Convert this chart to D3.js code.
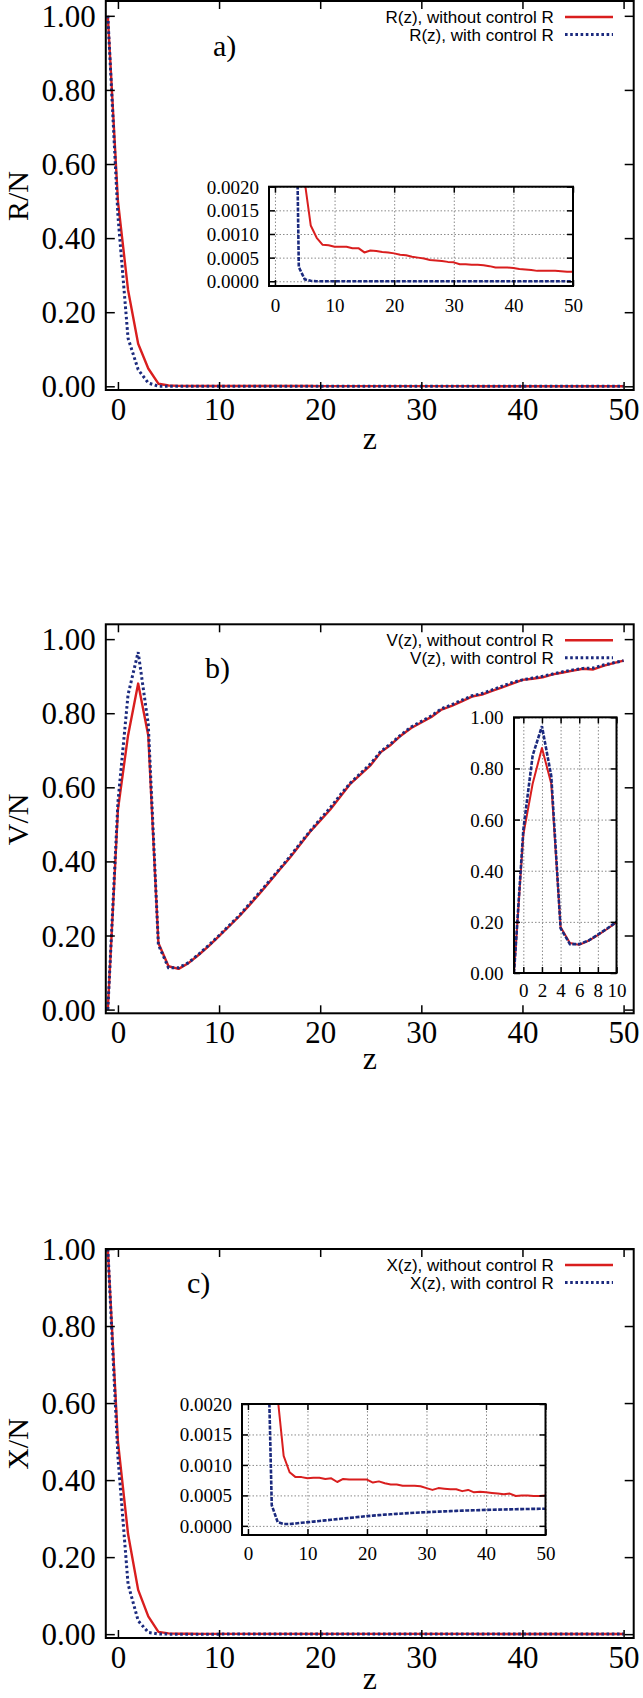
<!DOCTYPE html>
<html><head><meta charset="utf-8">
<script src="https://cdn.jsdelivr.net/npm/d3@7"></script>
<style>
body{margin:0;background:#fff}
svg{display:block}
</style></head><body>
<svg id="chart" width="643" height="1698"></svg>
<script>
// ---------- data ----------
const Z = [-1,0,1,2,3,4,5,6,7,8,9,10,11,12,13,14,15,16,17,18,19,20,21,22,23,24,25,26,27,28,29,30,31,32,33,34,35,36,37,38,39,40,41,42,43,44,45,46,47,48,49,50];

const R_without = [1.0,0.50,0.26,0.115,0.048,0.007,0.0021,0.00118,0.00092,0.00077,0.00076,0.00073,0.00073,0.00073,0.0007,0.0007,0.00061,0.00065,0.00064,0.00062,0.00061,0.00059,0.00056,0.00055,0.00052,0.0005,0.00048,0.00045,0.00044,0.00043,0.00041,0.0004,0.00036,0.00036,0.00035,0.00035,0.00034,0.00032,0.00029,0.00029,0.00029,0.00028,0.00026,0.00025,0.00024,0.00022,0.00022,0.00022,0.00022,0.00021,0.0002,0.0002];
const R_with = [1.0,0.46,0.13,0.045,0.009,0.0003,0.00004,0.00001,0,0,0,0,0,0,0,0,0,0,0,0,0,0,0,0,0,0,0,0,0,0,0,0,0,0,0,0,0,0,0,0,0,0,0,0,0,0,0,0,0,0,0,0];

const V_without = [0.00,0.54,0.74,0.88,0.74,0.18,0.117,0.11,0.126,0.148,0.172,0.198,0.225,0.252,0.282,0.313,0.345,0.378,0.41,0.445,0.48,0.51,0.54,0.575,0.61,0.635,0.66,0.695,0.715,0.74,0.76,0.775,0.79,0.81,0.82,0.832,0.845,0.85,0.86,0.87,0.88,0.89,0.893,0.897,0.905,0.91,0.915,0.92,0.918,0.928,0.935,0.942];
const V_with = [0.00,0.56,0.85,0.965,0.77,0.175,0.113,0.113,0.127,0.15,0.174,0.2,0.227,0.254,0.285,0.316,0.348,0.38,0.413,0.448,0.482,0.514,0.545,0.58,0.612,0.638,0.664,0.697,0.718,0.742,0.763,0.778,0.793,0.812,0.823,0.835,0.847,0.853,0.863,0.873,0.883,0.89,0.895,0.9,0.906,0.912,0.917,0.921,0.922,0.93,0.936,0.942];

const X_without = [1.0,0.50,0.26,0.115,0.046,0.006,0.0021,0.00115,0.00088,0.0008,0.0008,0.00078,0.00079,0.00079,0.00077,0.00078,0.00072,0.00077,0.00076,0.00076,0.00076,0.00076,0.00071,0.00073,0.0007,0.00068,0.00068,0.00066,0.00066,0.00066,0.00065,0.00062,0.00059,0.00062,0.00061,0.0006,0.0006,0.00057,0.00059,0.00055,0.00056,0.00055,0.00054,0.00053,0.00052,0.00053,0.00049,0.0005,0.0005,0.00049,0.00049,0.0005];
const X_with = [1.0,0.46,0.13,0.035,0.0045,0.00034,0.00006,0.00003,0.00003,0.00004,0.00005,0.00006,0.00007,0.00008,0.00009,0.0001,0.00011,0.00012,0.00013,0.00014,0.00015,0.00016,0.000168,0.000176,0.000184,0.00019,0.000197,0.000203,0.000209,0.000215,0.00022,0.000225,0.00023,0.000234,0.000238,0.000242,0.000246,0.00025,0.000253,0.000256,0.000259,0.000262,0.000264,0.000267,0.000269,0.000271,0.000273,0.000275,0.000277,0.000279,0.00028,0.000282];

const mainXTicks = [0,10,20,30,40,50];
const mainYTicks = [0,0.2,0.4,0.6,0.8,1.0];
const smallXTicks = [0,10,20,30,40,50];
const smallYTicks = [0,0.0005,0.001,0.0015,0.002];
const bInsetXTicks = [0,2,4,6,8,10];
const bInsetYTicks = [0,0.2,0.4,0.6,0.8,1.0];

const legendA = ["R(z), without control R","R(z), with control R"];
const legendB = ["V(z), without control R","V(z), with control R"];
const legendC = ["X(z), without control R","X(z), with control R"];

// ---------- drawing ----------
const svg = d3.select('#chart');
const RED = '#d91e1e', BLUE = '#1b2a7e';
const SERIF = '"Liberation Serif","Times New Roman",serif';
const SANS = '"Liberation Sans",Arial,sans-serif';
let clipN = 0;

function panel(p) {
  const g = svg.append('g');
  const x = d3.scaleLinear().domain(p.xDom).range([p.left, p.right]);
  const y = d3.scaleLinear().domain(p.yDom).range([p.bottom, p.top]);
  const W = p.right - p.left, H = p.bottom - p.top;
  const cid = 'clip' + (clipN++);
  svg.append('clipPath').attr('id', cid).append('rect')
    .attr('x', p.left).attr('y', p.top).attr('width', W).attr('height', H);
  if (p.fill) g.append('rect').attr('x', p.left).attr('y', p.top).attr('width', W).attr('height', H).attr('fill', '#fff');

  if (p.grid) {
    const gx = g.append('g').attr('transform', `translate(0,${p.bottom})`)
      .call(d3.axisBottom(x).tickValues(p.xTicks).tickSize(-H).tickFormat(''));
    const gy = g.append('g').attr('transform', `translate(${p.left},0)`)
      .call(d3.axisLeft(y).tickValues(p.yTicks).tickSize(-W).tickFormat(''));
    [gx, gy].forEach(a => {
      a.select('.domain').remove();
      a.selectAll('line').attr('stroke', '#8a8a8a').attr('stroke-width', 1).attr('stroke-dasharray', '1.5,2');
    });
  }

  const line = d3.line().x((d, i) => x(Z[i])).y(d => y(d));
  const lg = g.append('g').attr('clip-path', `url(#${cid})`);
  lg.append('path').datum(p.red).attr('d', line).attr('fill', 'none')
    .attr('stroke', RED).attr('stroke-width', p.redW).attr('stroke-linejoin', 'round');
  lg.append('path').datum(p.blue).attr('d', line).attr('fill', 'none')
    .attr('stroke', BLUE).attr('stroke-width', p.blueW).attr('stroke-dasharray', p.dash);

  const ax = [
    [d3.axisBottom(x).tickValues(p.xTicks).tickSize(-p.xt).tickFormat(p.xFmt), `translate(0,${p.bottom})`, 'b'],
    [d3.axisTop(x).tickValues(p.xTicks).tickSize(-p.xt).tickFormat(''), `translate(0,${p.top})`, 't'],
    [d3.axisLeft(y).tickValues(p.yTicks).tickSize(-p.yt).tickFormat(p.yFmt), `translate(${p.left},0)`, 'l'],
    [d3.axisRight(y).tickValues(p.yTicks).tickSize(-p.yt).tickFormat(''), `translate(${p.right},0)`, 'r']
  ];
  ax.forEach(([a, tr, side]) => {
    const ag = g.append('g').attr('transform', tr).call(a);
    ag.select('.domain').remove();
    ag.selectAll('line').attr('stroke', '#000').attr('stroke-width', 1.5);
    ag.attr('font-family', null).attr('font-size', null);
    ag.selectAll('text').attr('fill', '#000').attr('font-family', SERIF).attr('font-size', p.fs);
    if (side === 'b') ag.selectAll('text').attr('y', p.xLabOff).attr('dy', '0.35em');
    if (side === 'l') ag.selectAll('text').attr('x', -p.yLabOff).attr('dy', '0.34em');
  });

  g.append('rect').attr('x', p.left).attr('y', p.top).attr('width', W).attr('height', H)
    .attr('fill', 'none').attr('stroke', '#000').attr('stroke-width', 2);
  return {x, y};
}

function mainPanel(top, yDom, red, blue, yLab, tag, tagX, tagY, legend, zOff) {
  const left = 105.8, right = 633.7, bottom = top + 389;
  panel({left, right, top, bottom, xDom: [-1.2, 51], yDom,
    red, blue, redW: 2.4, blueW: 3, dash: '2.6,2.6',
    xTicks: mainXTicks, yTicks: mainYTicks, xt: 8, yt: 9,
    xFmt: d3.format('d'), yFmt: d3.format('.2f'), fs: 31, xLabOff: 19, yLabOff: 10});
  const lg = svg.append('g').attr('font-family', SANS).attr('font-size', 17);
  [[legend[0], RED, null, 2.4], [legend[1], BLUE, '2.6,2.6', 3]].forEach(([t, c, d, w], i) => {
    const yy = top + 16 + i * 17.5;
    lg.append('text').attr('x', 553.7).attr('y', yy).attr('dy', '0.36em')
      .attr('text-anchor', 'end').text(t);
    lg.append('line').attr('x1', 565).attr('x2', 613).attr('y1', yy).attr('y2', yy)
      .attr('stroke', c).attr('stroke-width', w).attr('stroke-dasharray', d);
  });
  svg.append('text').attr('x', tagX).attr('y', top + tagY).attr('dy', '0.3em')
    .attr('font-family', SERIF).attr('font-size', 30).text(tag);
  svg.append('text').attr('transform', `translate(17,${top + 195}) rotate(-90)`)
    .attr('text-anchor', 'middle').attr('dy', '0.35em')
    .attr('font-family', SERIF).attr('font-size', 30).text(yLab);
  const zfs = 32;
  svg.append('text').attr('x', (left + right) / 2).attr('y', bottom + zOff + 0.225 * zfs)
    .attr('text-anchor', 'middle').attr('font-family', SERIF).attr('font-size', zfs).text('z');
}

// Panel a
mainPanel(1, [-0.01, 1.04], R_without, R_with, 'R/N', 'a)', 213, 46, legendA, 52);
panel({left: 269, right: 573, top: 186.7, bottom: 286, xDom: [-1, 50], yDom: [-0.0001, 0.002],
  red: R_without, blue: R_with, redW: 2, blueW: 2.6, dash: '4,1.5', grid: true, fill: true,
  xTicks: smallXTicks, yTicks: smallYTicks, xt: 6, yt: 6,
  xFmt: d3.format('d'), yFmt: d3.format('.4f'), fs: 19, xLabOff: 19, yLabOff: 10});

// Panel b
mainPanel(624.3, [-0.01, 1.04], V_without, V_with, 'V/N', 'b)', 205, 45, legendB, 48);
panel({left: 514, right: 616.5, top: 717.3, bottom: 973, xDom: [-1, 10], yDom: [0, 1],
  red: V_without, blue: V_with, redW: 2, blueW: 2.6, dash: '4,1.5', grid: true, fill: true,
  xTicks: bInsetXTicks, yTicks: bInsetYTicks, xt: 6, yt: 6,
  xFmt: d3.format('d'), yFmt: d3.format('.2f'), fs: 19, xLabOff: 17, yLabOff: 10.5});

// Panel c
mainPanel(1249, [-0.01, 1.0], X_without, X_with, 'X/N', 'c)', 187, 35, legendC, 44);
panel({left: 242, right: 545.5, top: 1404, bottom: 1535, xDom: [-1, 50], yDom: [-0.00015, 0.002],
  red: X_without, blue: X_with, redW: 2, blueW: 2.6, dash: '4,1.5', grid: true, fill: true,
  xTicks: smallXTicks, yTicks: smallYTicks, xt: 6, yt: 6,
  xFmt: d3.format('d'), yFmt: d3.format('.4f'), fs: 19, xLabOff: 18.5, yLabOff: 10});
</script>
</body></html>
